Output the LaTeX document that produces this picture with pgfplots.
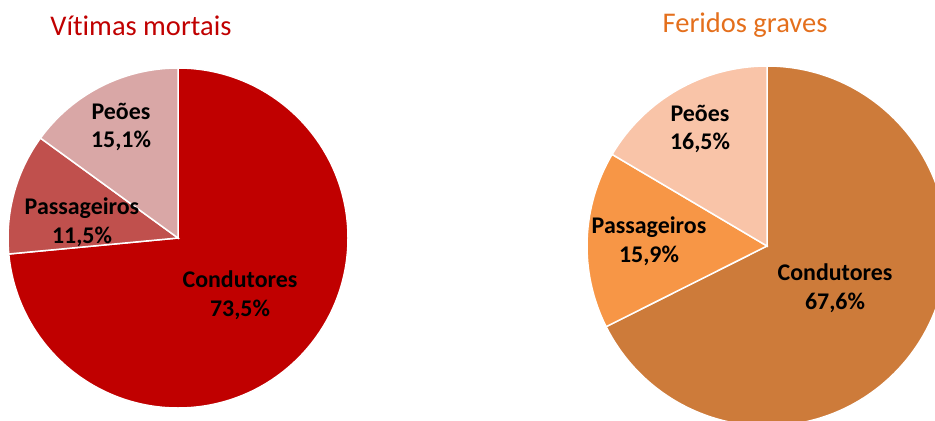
\documentclass[border=0pt]{standalone}
\usepackage{pgfplots}
\usepackage{pgfplotstable}
\pgfplotsset{compat=1.18}
\usepackage{fontspec}
\setmainfont{Carlito}[Ligatures=NoCommon]
\definecolor{mCond}{HTML}{C00000}
\definecolor{mPass}{HTML}{C0504D}
\definecolor{mPeao}{HTML}{D9A7A6}
\definecolor{gCond}{HTML}{CD7B3A}
\definecolor{gPass}{HTML}{F79646}
\definecolor{gPeao}{HTML}{F9C4A8}
\definecolor{tMort}{HTML}{C00000}
\definecolor{tGrav}{HTML}{E46F1C}
\pgfplotstableread[col sep=comma]{
grupo,condutores,passageiros,peoes
mortais,73.5,11.5,15.1
graves,67.6,15.9,16.5
}\dados
\newcommand\pie[8]{%
  \fill[#6,draw=white,line width=1.5bp] (axis cs:#1,#2) -- ++(90:#3bp)
     arc[start angle=90,delta angle={-3.6*(#4)},radius=#3bp] -- cycle;
  \fill[#7,draw=white,line width=1.5bp] (axis cs:#1,#2) -- ++({90-3.6*(#4)}:#3bp)
     arc[start angle={90-3.6*(#4)},delta angle={-3.6*(#5)},radius=#3bp] -- cycle;
  \fill[#8,draw=white,line width=1.5bp] (axis cs:#1,#2) -- ++({90-3.6*((#4)+(#5))}:#3bp)
     arc[start angle={90-3.6*((#4)+(#5))},end angle=-270,radius=#3bp] -- cycle;
}
\begin{document}
\pgfplotstablegetelem{0}{condutores}\of\dados \let\mC\pgfplotsretval
\pgfplotstablegetelem{0}{passageiros}\of\dados \let\mP\pgfplotsretval
\pgfplotstablegetelem{1}{condutores}\of\dados \let\gC\pgfplotsretval
\pgfplotstablegetelem{1}{passageiros}\of\dados \let\gP\pgfplotsretval
\begin{tikzpicture}
\begin{axis}[name=ax, width=935bp, height=421bp, scale only axis,
  xmin=0, xmax=935, ymin=0, ymax=421, y dir=reverse, hide axis, clip=true]
\pie{178}{238}{170}{\mC}{\mP}{mCond}{mPass}{mPeao}
\pie{767}{246}{180}{\gC}{\gP}{gCond}{gPass}{gPeao}
\node[anchor=base, text=tMort, font=\fontsize{28.6}{32}\selectfont] at (axis cs:141,36) {V\kern0pt ít\kern0pt imas mortais};
\node[anchor=base, text=tGrav, font=\fontsize{28.6}{32}\selectfont] at (axis cs:745,33) {Feridos graves};
\tikzset{lab/.style={align=center, font=\fontsize{24}{29}\selectfont\bfseries, inner sep=0pt}}
\node[lab] at (axis cs:240,295) {Condutores\\73,5\%};
\node[lab] at (axis cs:82,222) {Passageiros\\11,5\%};
\node[lab] at (axis cs:121,127) {Peões\\15,1\%};
\node[lab] at (axis cs:835,288) {Condutores\\67,6\%};
\node[lab] at (axis cs:649,241) {Passageiros\\15,9\%};
\node[lab] at (axis cs:700,129) {Peões\\16,5\%};
\end{axis}
\pgfresetboundingbox
\useasboundingbox (ax.south west) rectangle (ax.north east);
\end{tikzpicture}
\end{document}
